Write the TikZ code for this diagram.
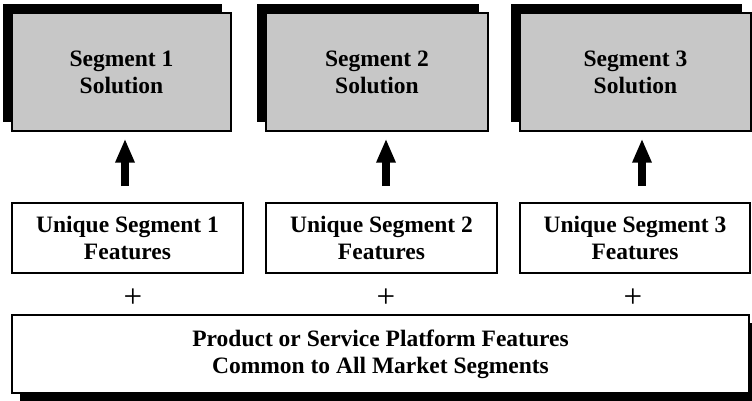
\documentclass[tikz,border=0pt]{standalone}
\usepackage{fontspec}
\setmainfont{Liberation Serif}
\usetikzlibrary{arrows.meta,shadows}
\definecolor{solgray}{gray}{0.78}
\tikzset{
  lbl/.style={font=\fontsize{23.5}{27}\selectfont\bfseries, align=center, inner sep=0pt},
  solbox/.style={lbl, draw=black, line width=1.4pt, fill=solgray, minimum height=118pt,
    drop shadow={shadow xshift=-9pt, shadow yshift=9pt, fill=black, opacity=1}},
  featbox/.style={lbl, draw=black, line width=1.6pt, fill=white, minimum height=70pt},
  basebox/.style={lbl, draw=black, line width=1.6pt, fill=white, minimum height=78pt, minimum width=737pt,
    drop shadow={shadow xshift=8pt, shadow yshift=-8pt, fill=black, opacity=1}},
  plussign/.style={font=\fontsize{33}{33}\selectfont, inner sep=0pt},
  uparrow/.style={line width=8pt, -{Triangle[width=18pt,length=24pt]}, shorten <=16pt, shorten >=7pt}
}
\begin{document}
\begin{tikzpicture}[x=1pt,y=1pt]
  \clip (0,0) rectangle (752,401);
  \fill[white] (0,0) rectangle (752,401);

  % segment solutions
  \node[solbox, minimum width=219pt] (s1) at (121.5,329) {Segment 1\\Solution};
  \node[solbox, minimum width=222pt] (s2) at (377,329) {Segment 2\\Solution};
  \node[solbox, minimum width=231pt] (s3) at (635.5,329) {Segment 3\\Solution};

  % unique features per segment
  \node[featbox, minimum width=231pt] (u1) at (127.5,163) {Unique Segment 1\\Features};
  \node[featbox, minimum width=231pt] (u2) at (381.5,163) {Unique Segment 2\\Features};
  \node[featbox, minimum width=230pt] (u3) at (635,163) {Unique Segment 3\\Features};

  % shared platform
  \node[basebox] (pf) at (380.5,47) {Product or Service Platform Features\\Common to All Market Segments};

  % plus signs
  \node[plussign] (p1) at (133,103) {+};
  \node[plussign] (p2) at (386,103) {+};
  \node[plussign] (p3) at (633,103) {+};

  % block arrows from features to solutions
  \draw[uparrow] ([xshift=-2.5pt]u1.north) -- ([xshift=-2.5pt]u1.north |- s1.south);
  \draw[uparrow] ([xshift=4.5pt]u2.north) -- ([xshift=4.5pt]u2.north |- s2.south);
  \draw[uparrow] ([xshift=7pt]u3.north) -- ([xshift=7pt]u3.north |- s3.south);
\end{tikzpicture}
\end{document}
